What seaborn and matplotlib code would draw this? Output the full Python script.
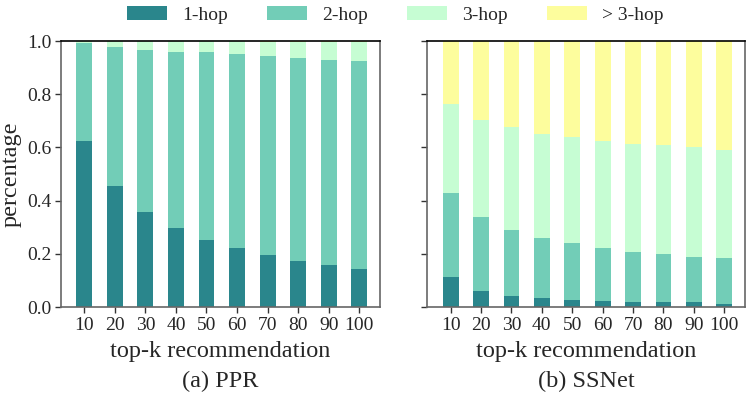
import numpy as np
import pandas as pd
import matplotlib
matplotlib.use("Agg")
import matplotlib.pyplot as plt
import seaborn as sns
from matplotlib.patches import Patch

sns.set_style("white")
plt.rcParams['font.family'] = ['Liberation Serif', 'DejaVu Serif']

topk = [10, 20, 30, 40, 50, 60, 70, 80, 90, 100]
hops = ["1-hop", "2-hop", "3-hop", "> 3-hop"]
colors = ["#2a868c", "#72cdb7", "#c6fdd3", "#fdfd9d"]

ppr_hop1 = [0.625, 0.456, 0.358, 0.298, 0.253, 0.223, 0.197, 0.174, 0.159, 0.144]
ppr_hop2 = [0.366, 0.523, 0.609, 0.662, 0.704, 0.727, 0.748, 0.763, 0.771, 0.782]
ppr_hop3 = [0.009, 0.021, 0.033, 0.040, 0.043, 0.050, 0.053, 0.060, 0.066, 0.070]
ppr_hop4 = [0.000, 0.000, 0.000, 0.000, 0.000, 0.000, 0.002, 0.003, 0.004, 0.004]

ssn_hop1 = [0.114, 0.061, 0.043, 0.032, 0.028, 0.024, 0.017, 0.017, 0.017, 0.013]
ssn_hop2 = [0.316, 0.278, 0.247, 0.228, 0.214, 0.199, 0.191, 0.183, 0.172, 0.172]
ssn_hop3 = [0.334, 0.365, 0.385, 0.392, 0.396, 0.402, 0.406, 0.408, 0.411, 0.406]
ssn_hop4 = [0.236, 0.296, 0.325, 0.348, 0.362, 0.375, 0.386, 0.392, 0.400, 0.409]

fig = plt.figure(figsize=(7.5, 3.97), dpi=100)
ax1 = fig.add_axes([61/750, 90/397, 319/750, 266/397])
ax2 = fig.add_axes([427.5/750, 90/397, 317.5/750, 266/397], sharey=ax1)


def draw(ax, parts):
    cum = np.cumsum(np.array(parts), axis=0)
    # draw from top of stack down so each lower segment overlays the previous
    for i in range(len(parts) - 1, -1, -1):
        df = pd.DataFrame({"k": [str(k) for k in topk], "v": cum[i]})
        sns.barplot(data=df, x="k", y="v", ax=ax, color=colors[i],
                    saturation=1, width=0.52, linewidth=0, errorbar=None)
    ax.set_xlim(-0.76, 9.68)
    ax.set_ylim(0, 1.0)
    ax.set_xlabel("top-k recommendation", fontsize=17.5, labelpad=5)
    ax.tick_params(axis="both", labelsize=14, length=4, width=1, color="#333333",
                   bottom=True, left=True, pad=3)
    for s in ["left", "right", "bottom"]:
        ax.spines[s].set_color("#666666")
        ax.spines[s].set_linewidth(1.2)
    ax.spines["top"].set_color("black")
    ax.spines["top"].set_linewidth(1.2)


draw(ax1, [ppr_hop1, ppr_hop2, ppr_hop3, ppr_hop4])
draw(ax2, [ssn_hop1, ssn_hop2, ssn_hop3, ssn_hop4])

ax1.set_yticks([0.0, 0.2, 0.4, 0.6, 0.8, 1.0])
ax1.set_yticklabels(["0.0", "0.2", "0.4", "0.6", "0.8", "1.0"])
ax1.set_ylabel("percentage", fontsize=17.5, labelpad=4)
ax2.set_ylabel("")
ax2.tick_params(axis="y", labelleft=False)

fig.text((61 + 380) / 2 / 750, 16 / 397, "(a) PPR", ha="center", va="center", fontsize=17.5)
fig.text((427.5 + 745) / 2 / 750, 16 / 397, "(b) SSNet", ha="center", va="center", fontsize=17.5)

handles = [Patch(facecolor=c, edgecolor="none") for c in colors]
fig.legend(handles, hops, loc="upper center", bbox_to_anchor=(0.527, 1.028), ncol=4,
           frameon=False, fontsize=14, handlelength=2.05, handleheight=0.72,
           handletextpad=0.8, columnspacing=2.0)

fig.savefig("out.png", dpi=100)
